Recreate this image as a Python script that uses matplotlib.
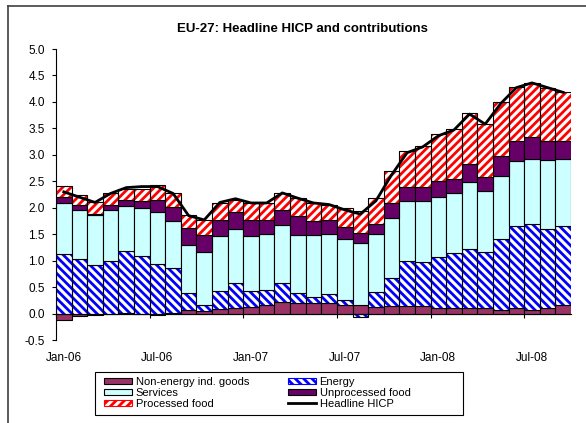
import matplotlib.pyplot as plt
import numpy as np
import pandas as pd
from matplotlib.patches import Patch, Rectangle
from matplotlib.lines import Line2D

plt.rcParams['font.family'] = ['Liberation Sans', 'DejaVu Sans']
plt.rcParams['hatch.linewidth'] = 2.0

# monthly contributions, Jan-06 .. Sep-08 (percentage points)
months = pd.date_range('2006-01-01', periods=33, freq='MS')
neig = [-0.13, -0.05, -0.03, -0.01, 0.01, 0.00, -0.03, 0.01, 0.07, 0.05, 0.08,
        0.11, 0.13, 0.16, 0.22, 0.20, 0.19, 0.19, 0.16, 0.16, 0.12, 0.15,
        0.15, 0.15, 0.10, 0.10, 0.10, 0.10, 0.07, 0.10, 0.06, 0.10, 0.16]
energy = [1.13, 1.03, 0.92, 0.99, 1.18, 1.09, 0.94, 0.86, 0.32, 0.12, 0.35,
          0.46, 0.30, 0.29, 0.36, 0.19, 0.13, 0.18, 0.09, -0.06, 0.28, 0.52,
          0.85, 0.82, 0.96, 1.04, 1.12, 1.06, 1.34, 1.56, 1.63, 1.50, 1.50]
services = [0.96, 0.92, 0.94, 0.97, 0.84, 0.90, 0.98, 0.87, 0.91, 0.99, 1.03,
            1.02, 1.04, 1.06, 1.10, 1.10, 1.17, 1.13, 1.16, 1.17, 1.10, 1.14,
            1.12, 1.15, 1.15, 1.13, 1.27, 1.16, 1.19, 1.23, 1.24, 1.31, 1.27]
unproc = [0.11, 0.11, 0.03, 0.10, 0.11, 0.14, 0.23, 0.27, 0.32, 0.32, 0.31,
          0.32, 0.30, 0.25, 0.28, 0.35, 0.25, 0.27, 0.22, 0.19, 0.19, 0.27,
          0.28, 0.28, 0.30, 0.28, 0.33, 0.27, 0.37, 0.37, 0.41, 0.35, 0.33]
proc = [0.21, 0.19, 0.22, 0.22, 0.22, 0.22, 0.28, 0.27, 0.25, 0.29, 0.32,
        0.23, 0.32, 0.33, 0.32, 0.34, 0.34, 0.29, 0.36, 0.42, 0.50, 0.61,
        0.68, 0.77, 0.88, 0.93, 0.97, 0.99, 1.02, 1.02, 1.02, 1.00, 0.92]
headline = [2.30, 2.20, 2.10, 2.27, 2.38, 2.40, 2.40, 2.27, 1.85, 1.77, 2.10,
            2.17, 2.09, 2.09, 2.28, 2.18, 2.09, 2.06, 1.96, 1.88, 2.13, 2.62,
            3.04, 3.15, 3.36, 3.47, 3.77, 3.58, 3.97, 4.27, 4.36, 4.27, 4.18]
tick_labels = ['Jan-06', 'Jul-06', 'Jan-07', 'Jul-07', 'Jan-08', 'Jul-08']

W, H = 586, 423
fig = plt.figure(figsize=(W / 100, H / 100), dpi=100)
ax = fig.add_axes([56 / W, 1 - 340 / H, (571 - 56) / W, (340 - 49) / H])

x = np.arange(len(months))
pos = np.zeros(len(x))
neg = np.zeros(len(x))
series = [
    (neig, '#993366', None, None, 'Non-energy ind. goods'),
    (energy, 'white', '\\\\\\\\', '#0000ff', 'Energy'),
    (services, '#ccffff', None, None, 'Services'),
    (unproc, '#660066', None, None, 'Unprocessed food'),
    (proc, 'white', '////', '#ff0000', 'Processed food'),
]
handles = {}
for vals, fc, hatch, hc, name in series:
    v = np.array(vals)
    bottom = np.where(v >= 0, pos, neg)
    if hatch:
        ax.bar(x, v, 1.0, bottom=bottom, color=fc, edgecolor=hc, hatch=hatch,
               linewidth=0)
        ax.bar(x, v, 1.0, bottom=bottom, color='none', edgecolor='black',
               linewidth=0.8)
        handles[name] = Patch(facecolor='white', edgecolor=hc, hatch=hatch,
                              linewidth=0.8)
    else:
        ax.bar(x, v, 1.0, bottom=bottom, color=fc, edgecolor='black',
               linewidth=0.8)
        handles[name] = Patch(facecolor=fc, edgecolor='black', linewidth=0.8)
    pos += np.where(v >= 0, v, 0)
    neg += np.where(v < 0, v, 0)

line, = ax.plot(x, headline, color='black', lw=2, solid_joinstyle='round')
handles['Headline HICP'] = line

ax.set_xlim(-0.5, len(x) - 0.5)
ax.set_ylim(-0.5, 5.0)
ax.set_yticks(np.arange(-0.5, 5.01, 0.5))
ax.set_yticklabels(['%.1f' % t for t in np.arange(-0.5, 5.01, 0.5)])
ax.tick_params(axis='y', direction='out', length=3, width=0.8, pad=5,
               labelsize=8.5)

ax.set_xticks(np.arange(-0.5, len(x), 6))
ax.set_xticklabels([])
ax.set_xticks(np.arange(0, len(x), 6), minor=True)
ax.set_xticklabels(tick_labels, minor=True)
ax.tick_params(axis='x', which='major', direction='out', length=3, width=0.8)
ax.tick_params(axis='x', which='minor', length=0, pad=28, labelsize=8.5)

for s in ['top', 'right']:
    ax.spines[s].set_visible(False)
ax.spines['bottom'].set_position(('data', 0))
ax.spines['bottom'].set_linewidth(0.8)
ax.spines['left'].set_linewidth(0.8)

fig.text(302 / W, 1 - 28.5 / H, 'EU-27: Headline HICP and contributions',
         ha='center', va='center', fontsize=9.5, fontweight='bold')

order = ['Non-energy ind. goods', 'Services', 'Processed food',
         'Energy', 'Unprocessed food', 'Headline HICP']
leg = fig.legend([handles[k] for k in order], order, ncol=2,
                 loc='upper left', bbox_to_anchor=(104 / W, 1 - 377 / H),
                 fontsize=8, frameon=False, borderpad=0,
                 labelspacing=0.08, handlelength=2.5, handleheight=0.5,
                 handletextpad=0.35, columnspacing=3.5, borderaxespad=0)

# legend box and outer chart frame
fig.add_artist(Rectangle((95 / W, 1 - 415 / H), 368 / W, 43 / H,
                         transform=fig.transFigure, facecolor='none',
                         edgecolor='black', lw=0.8))
fig.add_artist(Line2D([8 / W, 8 / W], [0, 1 - 6 / H], color='#404040', lw=1.2))
fig.add_artist(Line2D([8 / W, 1], [1 - 6 / H, 1 - 6 / H], color='#404040', lw=1.2))

fig.savefig('out.png', dpi=100)
